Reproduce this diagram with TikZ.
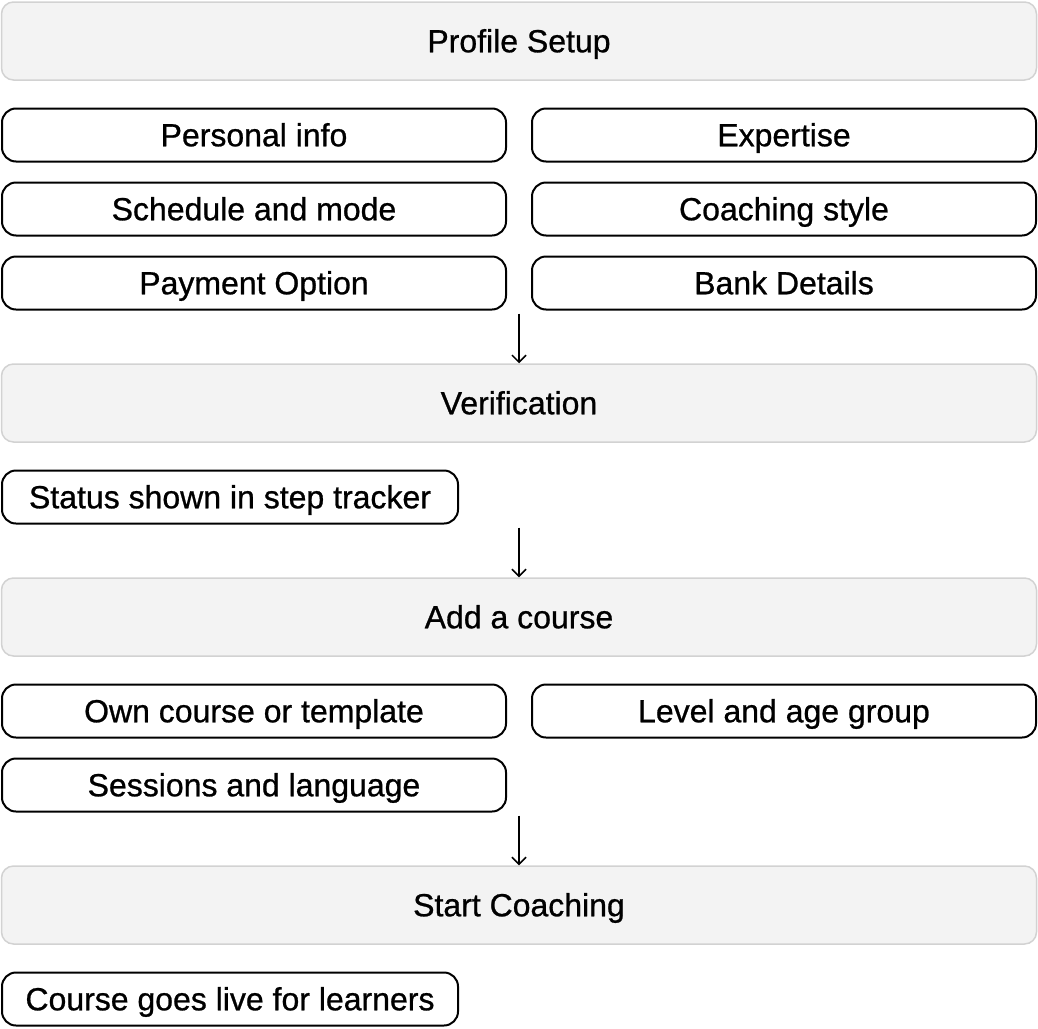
\documentclass[tikz,border=0pt]{standalone}
\usepackage{fontspec}
\setmainfont{Liberation Sans}
\newfontfamily\labelfont[FakeBold=0.8]{Liberation Sans}
\usetikzlibrary{arrows.meta}
\definecolor{phasefill}{HTML}{F3F3F3}
\definecolor{phaseline}{HTML}{D2D2D2}
\tikzset{
  phase/.style={draw=phaseline, fill=phasefill, line width=1.5pt, rounded corners=12pt,
    minimum width=1035pt, minimum height=78pt, font=\labelfont\fontsize{32}{38}\selectfont,
    text height=22.5pt, text depth=0pt},
  item/.style={draw=black, line width=2pt, rounded corners=14pt,
    minimum width=504pt, minimum height=53pt, font=\labelfont\fontsize{32}{38}\selectfont,
    text height=22.5pt, text depth=0pt},
  note/.style={item, minimum width=456pt},
  flow/.style={-{Straight Barb[length=7pt,width=14pt]}, line width=1.5pt}
}
\begin{document}
\begin{tikzpicture}[x=1pt,y=-1pt]
      \useasboundingbox (0,0) rectangle (1038,1028);
      \node[phase] (profile) at (519,41) {Profile Setup};
      \node[item] (personal) at (254,135) {Personal info};
      \node[item] (expertise) at (784,135) {Expertise};
      \node[item] (schedule) at (254,209) {Schedule and mode};
      \node[item] (style) at (784,209) {Coaching style};
      \node[item] (payment) at (254,283) {Payment Option};
      \node[item] (bank) at (784,283) {Bank Details};
      \node[phase] (verify) at (519,403) {Verification};
      \node[note] (status) at (230,497) {Status shown in step tracker};
      \node[phase] (course) at (519,617) {Add a course};
      \node[item] (own) at (254,711) {Own course or template};
      \node[item] (level) at (784,711) {Level and age group};
      \node[item] (sessions) at (254,785) {Sessions and language};
      \node[phase] (start) at (519,905) {Start Coaching};
      \node[note] (live) at (230,999) {Course goes live for learners};
      \begin{scope}[flow]
        \draw ([yshift=-3pt]payment.south -| verify.north) -- (verify.north);
        \draw ([yshift=-3pt]status.south -| course.north) -- (course.north);
        \draw ([yshift=-3pt]sessions.south -| start.north) -- (start.north);
      \end{scope}
    \end{tikzpicture}
\end{document}
